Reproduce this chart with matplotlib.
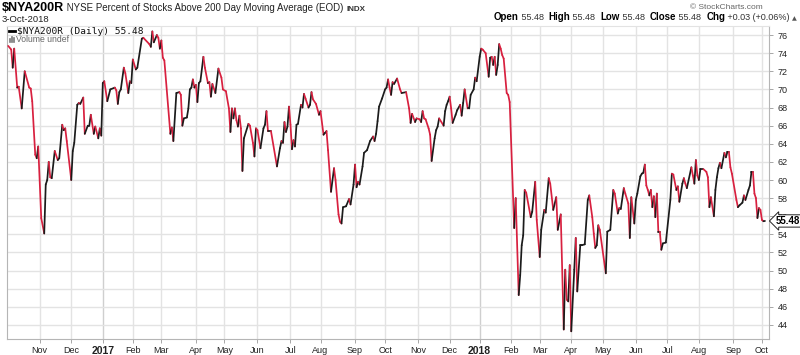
import numpy as np
import pandas as pd
import matplotlib
matplotlib.use('Agg')
import matplotlib.pyplot as plt
from matplotlib.collections import LineCollection
from matplotlib.lines import Line2D

# vertices of the daily line (turning points)
dates = [
    '2016-10-03', '2016-10-05', '2016-10-06', '2016-10-07', '2016-10-11', '2016-10-12', '2016-10-14', '2016-10-18',
    '2016-10-21', '2016-10-24', '2016-10-25', '2016-10-27', '2016-10-28', '2016-10-31',
    '2016-11-02', '2016-11-04', '2016-11-07', '2016-11-08', '2016-11-09', '2016-11-10', '2016-11-11', '2016-11-15',
    '2016-11-17', '2016-11-18', '2016-11-22', '2016-11-23', '2016-11-25', '2016-11-28',
    '2016-12-01', '2016-12-02', '2016-12-05', '2016-12-07', '2016-12-08', '2016-12-09', '2016-12-13', '2016-12-14',
    '2016-12-16', '2016-12-19', '2016-12-20', '2016-12-22', '2016-12-23', '2016-12-28', '2016-12-29', '2016-12-30',
    '2017-01-03', '2017-01-04', '2017-01-06', '2017-01-10', '2017-01-13', '2017-01-17', '2017-01-18', '2017-01-19',
    '2017-01-20', '2017-01-24', '2017-01-25', '2017-01-27', '2017-01-30', '2017-01-31',
    '2017-02-01', '2017-02-03', '2017-02-06', '2017-02-09', '2017-02-10', '2017-02-16', '2017-02-17', '2017-02-21',
    '2017-02-22', '2017-02-24', '2017-02-27', '2017-02-28',
    '2017-03-01', '2017-03-02', '2017-03-03', '2017-03-09', '2017-03-10', '2017-03-13', '2017-03-15', '2017-03-17',
    '2017-03-20', '2017-03-21', '2017-03-22', '2017-03-24', '2017-03-27', '2017-03-28', '2017-03-29', '2017-03-30',
    '2017-03-31',
    '2017-04-03', '2017-04-04', '2017-04-05', '2017-04-06', '2017-04-10', '2017-04-11', '2017-04-13', '2017-04-17',
    '2017-04-18', '2017-04-19', '2017-04-21', '2017-04-25', '2017-04-27', '2017-04-28',
    '2017-05-02', '2017-05-04', '2017-05-05', '2017-05-08', '2017-05-09', '2017-05-10', '2017-05-11', '2017-05-12',
    '2017-05-15', '2017-05-16', '2017-05-17', '2017-05-18', '2017-05-23', '2017-05-24', '2017-05-26', '2017-05-30',
    '2017-05-31',
    '2017-06-01', '2017-06-05', '2017-06-07', '2017-06-08', '2017-06-09', '2017-06-12', '2017-06-14', '2017-06-20',
    '2017-06-22', '2017-06-23', '2017-06-26', '2017-06-27', '2017-06-28', '2017-06-29', '2017-06-30',
    '2017-07-03', '2017-07-05', '2017-07-06', '2017-07-07', '2017-07-10', '2017-07-11', '2017-07-13', '2017-07-14',
    '2017-07-17', '2017-07-18', '2017-07-20', '2017-07-21', '2017-07-24', '2017-07-25', '2017-07-27', '2017-07-31',
    '2017-08-01', '2017-08-03', '2017-08-04', '2017-08-07', '2017-08-08', '2017-08-10', '2017-08-14', '2017-08-15',
    '2017-08-17', '2017-08-18', '2017-08-21', '2017-08-22', '2017-08-24', '2017-08-28', '2017-08-29', '2017-08-31',
    '2017-09-01', '2017-09-05', '2017-09-06', '2017-09-07', '2017-09-11', '2017-09-12', '2017-09-14', '2017-09-18',
    '2017-09-20', '2017-09-21', '2017-09-22', '2017-09-25', '2017-09-26', '2017-09-28',
    '2017-10-02', '2017-10-03', '2017-10-04', '2017-10-05', '2017-10-06', '2017-10-09', '2017-10-10', '2017-10-12',
    '2017-10-16', '2017-10-17', '2017-10-20', '2017-10-24', '2017-10-25', '2017-10-26', '2017-10-30', '2017-10-31',
    '2017-11-02', '2017-11-03', '2017-11-06', '2017-11-07', '2017-11-08', '2017-11-10', '2017-11-13', '2017-11-14',
    '2017-11-16', '2017-11-17', '2017-11-20', '2017-11-21', '2017-11-27', '2017-11-28', '2017-11-29', '2017-11-30',
    '2017-12-01', '2017-12-04', '2017-12-05', '2017-12-07', '2017-12-08', '2017-12-12', '2017-12-13', '2017-12-14',
    '2017-12-15', '2017-12-19', '2017-12-20', '2017-12-21', '2017-12-26', '2017-12-27', '2017-12-28',
    '2018-01-02', '2018-01-03', '2018-01-04', '2018-01-08', '2018-01-10', '2018-01-11', '2018-01-12', '2018-01-16',
    '2018-01-17', '2018-01-18', '2018-01-19', '2018-01-22', '2018-01-23', '2018-01-24', '2018-01-25', '2018-01-29',
    '2018-01-30', '2018-01-31',
    '2018-02-05', '2018-02-06', '2018-02-08', '2018-02-09', '2018-02-12', '2018-02-13', '2018-02-14', '2018-02-15',
    '2018-02-21', '2018-02-22', '2018-02-26', '2018-02-27',
    '2018-03-01', '2018-03-02', '2018-03-06', '2018-03-07', '2018-03-09', '2018-03-12', '2018-03-14', '2018-03-16',
    '2018-03-19', '2018-03-21', '2018-03-23', '2018-03-26', '2018-03-27', '2018-03-28', '2018-03-29',
    '2018-04-02', '2018-04-04', '2018-04-05', '2018-04-06', '2018-04-10', '2018-04-11', '2018-04-13', '2018-04-17',
    '2018-04-18', '2018-04-20', '2018-04-23', '2018-04-24', '2018-04-25', '2018-04-26', '2018-04-27',
    '2018-05-03', '2018-05-04', '2018-05-08', '2018-05-10', '2018-05-11', '2018-05-15', '2018-05-16', '2018-05-17',
    '2018-05-21', '2018-05-22', '2018-05-24', '2018-05-25', '2018-05-29', '2018-05-31',
    '2018-06-01', '2018-06-04', '2018-06-06', '2018-06-07', '2018-06-08', '2018-06-11', '2018-06-12', '2018-06-13',
    '2018-06-14', '2018-06-15', '2018-06-18', '2018-06-19', '2018-06-20', '2018-06-21', '2018-06-22', '2018-06-25',
    '2018-06-26', '2018-06-27', '2018-06-29',
    '2018-07-05', '2018-07-06', '2018-07-09', '2018-07-11', '2018-07-12', '2018-07-13', '2018-07-17', '2018-07-18',
    '2018-07-19', '2018-07-20', '2018-07-25', '2018-07-26', '2018-07-27', '2018-07-30', '2018-07-31',
    '2018-08-01', '2018-08-02', '2018-08-06', '2018-08-08', '2018-08-09', '2018-08-10', '2018-08-13', '2018-08-15',
    '2018-08-16', '2018-08-17', '2018-08-20', '2018-08-21', '2018-08-22', '2018-08-24', '2018-08-27', '2018-08-28',
    '2018-08-29', '2018-08-30', '2018-08-31',
    '2018-09-06', '2018-09-07', '2018-09-10', '2018-09-12', '2018-09-13', '2018-09-14', '2018-09-18', '2018-09-19',
    '2018-09-20', '2018-09-21', '2018-09-24', '2018-09-25', '2018-09-26', '2018-09-27', '2018-09-28',
    '2018-10-01', '2018-10-02', '2018-10-03',
]
values = [
    74.8, 74.4, 72.4, 74.5, 70.2, 70.3, 67.9, 72.0,
    70.2, 70.1, 68.7, 62.8, 62.4, 63.7,
    55.8, 54.1, 59.5, 60.0, 62.0, 60.3, 60.2, 63.2,
    62.2, 62.4, 66.1, 65.5, 65.7, 64.3,
    60.0, 63.2, 64.1, 68.3, 68.5, 68.4, 69.1, 65.1,
    66.0, 66.0, 67.2, 65.1, 65.9, 64.6, 65.7, 64.9,
    70.7, 70.9, 68.7, 70.0, 70.2, 69.9, 68.4, 69.7,
    70.0, 72.4, 71.8, 69.6, 70.9, 70.7,
    73.3, 72.2, 72.4, 75.6, 75.7, 75.0, 74.7, 76.4,
    75.2, 76.0, 75.7, 74.5,
    75.4, 73.5, 73.2, 65.1, 65.8, 64.3, 69.6, 69.7,
    69.4, 66.0, 66.8, 66.9, 67.9, 70.0, 70.2, 71.1,
    70.2,
    70.5, 68.6, 70.7, 70.9, 73.6, 72.4, 70.7, 70.8,
    69.2, 70.6, 69.6, 72.3, 71.3, 70.0,
    69.8, 67.9, 65.3, 67.9, 66.8, 67.9, 66.6, 65.9,
    67.1, 65.7, 61.0, 64.6, 66.2, 66.0, 64.1, 62.6,
    65.7,
    65.5, 63.5, 65.7, 66.1, 67.6, 65.4, 65.4, 61.5,
    63.5, 64.3, 64.1, 66.4, 65.3, 65.9, 68.1,
    66.1, 63.4, 64.4, 63.7, 66.1, 66.2, 68.3, 68.0,
    69.5, 69.0, 68.0, 68.3, 69.7, 68.9, 68.4, 67.2,
    67.6, 65.0, 65.2, 65.4, 63.3, 58.7, 61.3, 60.0,
    56.2, 55.4, 55.2, 57.0, 57.1, 57.9, 57.3, 59.5,
    61.7, 59.2, 59.8, 59.5, 61.5, 63.0, 63.3, 64.3,
    64.8, 64.3, 65.1, 66.5, 68.1, 69.0,
    70.0, 70.2, 71.1, 70.2, 69.4, 70.8, 70.6, 71.2,
    70.0, 69.6, 69.7, 67.9, 66.3, 67.3, 66.4, 66.8,
    66.7, 66.4, 67.6, 66.8, 66.7, 65.7, 65.0, 62.1,
    64.6, 65.5, 65.9, 66.8, 66.0, 67.6, 68.3, 68.7,
    69.2, 67.9, 66.3, 67.2, 67.7, 68.3, 67.1, 68.5,
    70.0, 67.9, 67.9, 69.4, 70.0, 71.3, 70.9,
    73.6, 74.5, 74.4, 74.0, 71.4, 73.5, 73.6, 72.7,
    73.6, 71.6, 72.7, 75.0, 74.5, 73.8, 73.4, 69.6,
    69.4, 68.6,
    54.7, 58.0, 47.3, 49.5, 52.8, 53.9, 58.9, 58.6,
    55.9, 56.5, 59.8, 55.6,
    51.5, 54.5, 56.7, 56.4, 60.2, 59.6, 56.7, 58.1,
    54.5, 56.2, 43.5, 50.1, 46.8, 46.6, 50.6,
    43.3, 50.1, 53.6, 47.7, 52.8, 52.8, 52.9, 57.8,
    58.3, 55.9, 54.1, 52.5, 52.8, 55.0, 54.5,
    49.7, 54.3, 54.5, 58.9, 58.5, 56.3, 56.9, 56.8,
    59.1, 58.5, 57.4, 53.6, 58.1, 55.2,
    57.8, 58.5, 60.4, 60.7, 60.8, 61.7, 59.4, 58.9,
    58.3, 58.9, 57.0, 58.2, 55.9, 58.5, 54.3, 54.3,
    52.3, 53.0, 53.1,
    57.8, 60.7, 60.6, 58.9, 59.3, 57.6, 59.6, 60.2,
    59.6, 59.1, 61.4, 60.5, 59.6, 62.2, 60.5,
    60.0, 61.2, 61.2, 60.9, 60.3, 57.0, 58.1, 56.0,
    58.9, 60.3, 61.3, 61.9, 61.3, 63.0, 62.5, 63.1,
    63.1, 61.4, 60.7,
    57.8, 57.0, 57.2, 57.5, 58.3, 57.8, 58.9, 59.4,
    60.9, 60.9, 58.5, 58.0, 55.8, 56.9, 56.7,
    55.6, 55.45, 55.48,
]

# NYSE closed days inside the range (chart x axis is trading sessions)
nyse_holidays = ['2016-11-24', '2016-12-26', '2017-01-02', '2017-01-16', '2017-02-20', '2017-04-14',
                 '2017-05-29', '2017-07-04', '2017-09-04', '2017-11-23', '2017-12-25', '2018-01-01',
                 '2018-01-15', '2018-02-19', '2018-03-30', '2018-05-28', '2018-07-04', '2018-09-03']

yticks = list(range(44, 77, 2))
last_close = 55.48

RED   = '#d8203f'
BLACK = '#1b1b1b'
GRID  = '#e3e3e3'

sessions = pd.bdate_range('2016-10-03', '2018-10-03', freq='C', holidays=nyse_holidays)
x = sessions.searchsorted(pd.to_datetime(dates)).astype(float)
y = np.array(values)

# first session of every month -> grid / tick positions
idx = pd.Series(np.arange(len(sessions)), index=sessions)
firsts = idx.groupby([sessions.year, sessions.month]).first().iloc[1:]
tick_pos = firsts.values
tick_lab = [str(yr) if mo == 1 else pd.Timestamp(yr, mo, 1).strftime('%b') for (yr, mo) in firsts.index]

W, H = 800, 355
fig = plt.figure(figsize=(W/100, H/100), dpi=100)
ax = fig.add_axes([7/W, 1-339/H, 762/W, 313/H])

ax.set_xlim(-0.8, len(sessions) - 1 + 2.7)
ax.set_ylim(42.45, 77.0)

# month grid, year lines a little darker
for p, lab in zip(tick_pos, tick_lab):
    ax.axvline(p, color='#cfcfcf' if lab.isdigit() else GRID, lw=1.0, zorder=0)
for v in yticks:
    ax.axhline(v, color=GRID, lw=1.0, zorder=0)

pts = np.column_stack([x, y])
segs = np.stack([pts[:-1], pts[1:]], axis=1)
cols = np.where(np.diff(y) >= 0, BLACK, RED)
lc = LineCollection(segs, colors=cols, linewidths=1.25, capstyle='round', joinstyle='round', zorder=3)
ax.add_collection(lc)

ax.set_xticks(tick_pos)
ax.set_xticklabels(tick_lab)
for t in ax.get_xticklabels():
    t.set_fontfamily(['Liberation Sans Narrow', 'Liberation Sans'])
    t.set_fontsize(6.5)
    t.set_color('#222222')
    if t.get_text().isdigit():
        t.set_fontweight('bold')
        t.set_fontsize(7.5)
ax.tick_params(axis='x', length=3, width=0.6, color='#999999', pad=2)

ax.yaxis.tick_right()
ax.set_yticks(yticks)
ax.set_yticklabels([str(v) for v in yticks])
ax.tick_params(axis='y', length=3, width=0.6, color='#999999', pad=3, labelsize=6.5, labelcolor='#222222')
for t in ax.get_yticklabels():
    t.set_fontfamily(['Liberation Sans Narrow', 'Liberation Sans'])

for s in ax.spines.values():
    s.set_color('#b5b5b5')
    s.set_linewidth(0.8)
ax.spines['top'].set_color(GRID)

# last value tag on the right axis
ax.annotate(f'{last_close:.2f}', xy=(1, last_close), xycoords=('axes fraction', 'data'),
            xytext=(5, 0), textcoords='offset points', ha='left', va='center',
            fontsize=7, fontweight='bold', family='Liberation Sans',
            bbox=dict(boxstyle='larrow,pad=0.12', fc='white', ec='#222222', lw=0.7), zorder=5)


def row(pieces, x0, yb, align='left'):
    # pieces: (text, size, weight, color, family) laid out side by side
    r = fig.canvas.get_renderer()
    items = []
    cur = x0
    for txt, size, weight, color, fam in pieces:
        t = fig.text(cur/W, 1-yb/H, txt, fontsize=size, fontweight=weight, color=color,
                     family=fam, va='baseline', ha='left')
        w = t.get_window_extent(r).width
        items.append(t)
        cur += w
    if align == 'right':
        shift = cur - x0
        for t in items:
            px, py = t.get_position()
            t.set_position((px - shift/W, py))


SANS = 'Liberation Sans'
row([('\\$NYA200R', 9, 'bold', 'black', SANS),
     (' NYSE Percent of Stocks Above 200 Day Moving Average (EOD) ', 7, 'normal', '#222222', SANS),
     ('INDX', 5.8, 'bold', '#333333', SANS)], 2, 11)
fig.text(2/W, 1-22/H, '3-Oct-2018', fontsize=6.8, color='#222222', family=SANS, va='baseline')
fig.text(763/W, 1-9/H, '\u00a9 StockCharts.com', fontsize=6, color='#666666', family=SANS,
         va='baseline', ha='right')

row([('Open', 7, 'bold', 'black', SANS), (' 55.48  ', 6.5, 'normal', '#333333', SANS),
     ('High', 7, 'bold', 'black', SANS), (' 55.48  ', 6.5, 'normal', '#333333', SANS),
     ('Low', 7, 'bold', 'black', SANS), (' 55.48  ', 6.5, 'normal', '#333333', SANS),
     ('Close', 7, 'bold', 'black', SANS), (' 55.48  ', 6.5, 'normal', '#333333', SANS),
     ('Chg', 7, 'bold', 'black', SANS), (' +0.03 (+0.06%) ', 6.5, 'normal', '#333333', SANS),
     ('\u25b2', 4.5, 'normal', '#555555', 'DejaVu Sans')], 797, 20, align='right')

# in-plot legend
fig.add_artist(Line2D([9/W, 15/W], [1-31/H, 1-31/H], color='black', lw=2))
fig.text(17/W, 1-34/H, '\\$NYA200R (Daily) 55.48', fontsize=6.8, color='#111111',
         family='DejaVu Sans Mono', va='baseline')
for i, hgt in enumerate([3, 5, 4]):
    fig.add_artist(Line2D([(10 + 2*i)/W] * 2, [1-42/H, 1-(42-hgt)/H], color='#777777', lw=1.2))
fig.text(16/W, 1-42.5/H, 'Volume undef', fontsize=6.2, color='#666666', family=SANS, va='baseline')

fig.savefig('out.png', dpi=100)
